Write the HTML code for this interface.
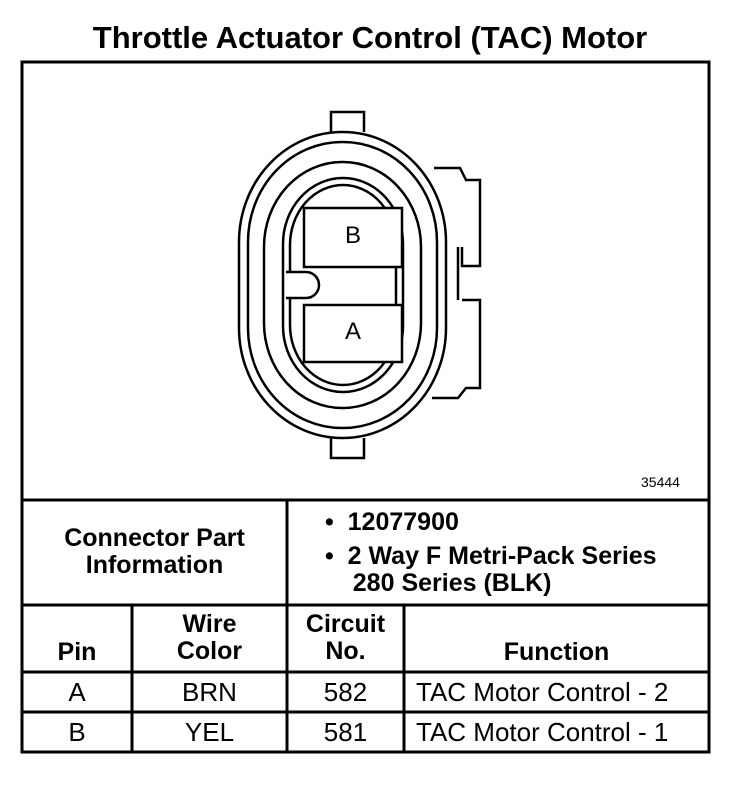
<!DOCTYPE html>
<html><head><style>
body{margin:0;width:752px;height:794px;background:#fff;font-family:"Liberation Sans",Arial,sans-serif;}
.t{position:absolute;color:#000;white-space:nowrap}
.b{font-weight:bold;font-size:25px;line-height:27px}
.n{font-size:26px;line-height:28px}
</style></head><body>
<div class="t" style="left:0;width:740px;top:20px;text-align:center;font-weight:bold;font-size:31px;">Throttle Actuator Control (TAC) Motor</div>
<svg width="752" height="794" style="position:absolute;left:0;top:0" xmlns="http://www.w3.org/2000/svg">
<g fill="none" stroke="#000" stroke-width="3">
<rect x="22" y="62" width="687" height="690"/>
<line x1="22" y1="500" x2="709" y2="500"/>
<line x1="22" y1="605" x2="709" y2="605"/>
<line x1="22" y1="672" x2="709" y2="672"/>
<line x1="22" y1="712" x2="709" y2="712"/>
<line x1="287" y1="500" x2="287" y2="752"/>
<line x1="132" y1="605" x2="132" y2="752"/>
<line x1="404" y1="605" x2="404" y2="752"/>
</g>
<g fill="none" stroke="#000" stroke-width="2.5">
<path d="M331 132 V112 H364 V132"/>
<path d="M331 438 V458 H364 V438"/>
<path d="M434 168 H460 L466 180 H480 V266 H462 V247 M462 300 H480 V388 H466 L458 398 H432"/>
<line x1="458" y1="247" x2="458" y2="300"/>
<rect x="239" y="132" width="207" height="306" rx="103" ry="110" fill="#fff"/>
<rect x="248" y="142" width="189" height="286" rx="94" ry="100"/>
<rect x="264" y="162" width="157" height="246" rx="78" ry="85"/>
<rect x="283" y="178" width="120" height="214" rx="60" ry="66"/>
<rect x="290" y="185" width="106" height="200" rx="53" ry="60"/>
<rect x="304" y="208" width="98" height="59" fill="#fff"/>
<rect x="304" y="305" width="98" height="57" fill="#fff"/>
<path d="M286 272 H306 A13 13 0 0 1 306 298 H286" fill="#fff"/>
</g>
</svg>
<div class="t" style="left:304px;width:98px;top:222px;text-align:center;font-size:24px">B</div>
<div class="t" style="left:304px;width:98px;top:318px;text-align:center;font-size:24px">A</div>
<div class="t" style="left:641px;top:474px;font-size:14px">35444</div>
<div class="t b" style="left:22px;width:265px;top:525px;text-align:center">Connector Part<br>Information</div>
<div class="t b" style="left:325px;top:509px">•&nbsp; 12077900</div>
<div class="t b" style="left:325px;top:543px">•&nbsp; 2 Way F Metri-Pack Series<br>&nbsp;&nbsp;&nbsp;&nbsp;280 Series (BLK)</div>
<div class="t b" style="left:22px;width:110px;top:639px;text-align:center">Pin</div>
<div class="t b" style="left:132px;width:155px;top:611px;text-align:center">Wire<br>Color</div>
<div class="t b" style="left:287px;width:117px;top:611px;text-align:center">Circuit<br>No.</div>
<div class="t b" style="left:404px;width:305px;top:639px;text-align:center">Function</div>
<div class="t n" style="left:22px;width:110px;top:678px;text-align:center">A</div>
<div class="t n" style="left:132px;width:155px;top:678px;text-align:center">BRN</div>
<div class="t n" style="left:287px;width:117px;top:678px;text-align:center">582</div>
<div class="t n" style="left:416px;top:678px">TAC Motor Control - 2</div>
<div class="t n" style="left:22px;width:110px;top:718px;text-align:center">B</div>
<div class="t n" style="left:132px;width:155px;top:718px;text-align:center">YEL</div>
<div class="t n" style="left:287px;width:117px;top:718px;text-align:center">581</div>
<div class="t n" style="left:416px;top:718px">TAC Motor Control - 1</div>
</body></html>
